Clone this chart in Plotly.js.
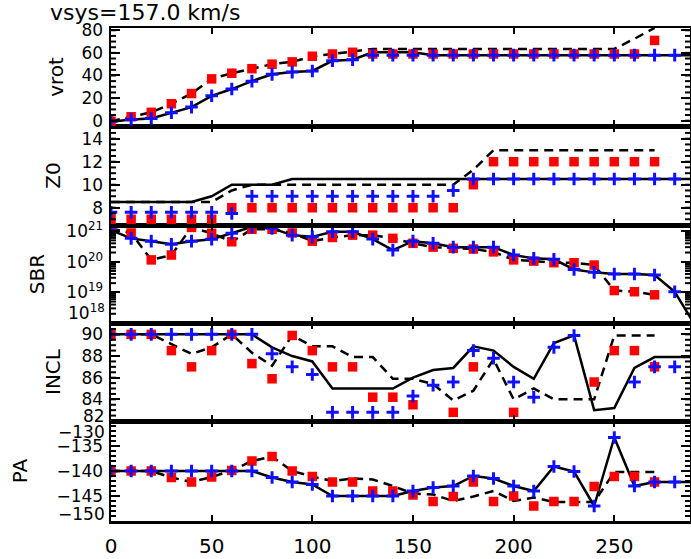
<!DOCTYPE html>
<html>
<head>
<meta charset="utf-8">
<script src="https://cdn.plot.ly/plotly-3.0.1.min.js"></script>
<style>html,body{margin:0;padding:0;background:#fff}#chart{width:691px;height:559px}</style>
</head>
<body>
<div id="chart"></div>
<script>
// radii of rings (points) and of model curves
const radius = [0,10,20,30,40,50,60,70,80,90,100,110,120,130,140,150,160,170,180,190,200,210,220,230,240,250,260,270,280];
const radiusRed = [0,10,20,30,40,50,60,70,80,90,100,110,120,130,140,150,160,170,180,190,200,210,220,230,240,250,260,270];
const radiusModel = [0,10,20,30,40,50,60,70,80,90,100,110,120,130,140,150,160,170,180,190,200,210,220,230,240,250,260,270,280,290];

// vrot
const vrotBlue = [-0.5,1,2,7,12,22,28,35,41,43,44,53,54,58,58,58,58,58,58,58,58,58,58,58,58,58,58,58,58];
const vrotRed = [-0.5,3.5,7.4,15,24,37,42,46,50,52,57,59,60.5,59,59,59,59,59,59,59,59,59,59,59,59,59,59,71];
const vrotSolid = [-1,1,2,7,12,22,28,35,41,43,44,53,54,60.5,60.5,60.5,58,58,58,58,58,58,58,58,58,58,58,58,58,58];
const vrotDashed = [-0.5,3.5,7.4,15,24,37,42,46,50,52,57,59,61,63.5,63.5,63.5,63.5,63.5,63.5,63.5,63.5,63.5,63.5,63.5,63.5,63.5,72.5,82];

// Z0
const z0Blue = [7.6,7.6,7.6,7.6,7.6,7.6,7.5,9,9,9,9,9,9,9,9,9,9,9.5,10.5,10.5,10.5,10.5,10.5,10.5,10.5,10.5,10.5,10.5,10.5];
const z0Red = [7,7,7,7,7,7,8,8,8,8,8,8,8,8,8,8,8,8,10,12,12,12,12,12,12,12,12,12];
const z0Solid = [8.5,8.5,8.5,8.5,8.5,9,10,10,10,10.5,10.5,10.5,10.5,10.5,10.5,10.5,10.5,10.5,10.5,10.5,10.5,10.5,10.5,10.5,10.5,10.5,10.5,10.5,10.5,10.5];
const z0Dashed = [8.5,8.5,8.5,8.5,8.5,8.5,9.5,10,10,10,10,10,10,10,10,10,10,10,11.3,13,13,13,13,13,13,13,13,13];

// SBR
const sbrBlue = [1.07e21,5.8e20,4.7e20,3.7e20,4.7e20,5.4e20,8.5e20,1.38e21,1.23e21,7.4e20,6.5e20,9.5e20,9.5e20,5.5e20,2.4e20,4.7e20,4.0e20,3.0e20,3.0e20,3.0e20,1.66e20,1.29e20,1.2e20,5.6e19,4.5e19,4.0e19,4.0e19,3.7e19,1.05e19];
const sbrRed = [1.23e21,8.7e20,1.15e20,1.66e20,1.32e21,8.5e20,4.5e20,1.15e21,1.15e21,8.7e20,4.7e20,6.2e20,7.4e20,7.4e20,5.8e20,4.0e20,3.0e20,2.75e20,2.6e20,2.1e20,1.15e20,1.05e20,9.3e19,9.3e19,7.8e19,1.15e19,1.05e19,8.3e18];
const sbrSolid = [1.07e21,5.8e20,4.7e20,3.7e20,4.7e20,5.4e20,8.5e20,1.38e21,1.23e21,7.4e20,6.5e20,9.5e20,9.5e20,5.5e20,2.4e20,4.7e20,4.0e20,3.0e20,3.0e20,3.0e20,1.66e20,1.29e20,1.2e20,5.6e19,4.5e19,4.0e19,4.0e19,3.7e19,1.05e19,8.7e17];
const sbrDashed = [1.23e21,8.7e20,1.15e20,1.66e20,1.32e21,8.5e20,4.5e20,1.15e21,1.15e21,8.7e20,4.7e20,6.2e20,7.4e20,7.4e20,5.8e20,4.0e20,3.0e20,2.75e20,2.6e20,2.1e20,1.15e20,1.05e20,9.3e19,9.3e19,7.8e19,1.15e19,1.05e19,8.3e18];

// INCL
const inclBlue = [90,90,90,90,90,90,90,90,88.2,87.0,86.3,82.8,82.8,82.8,82.8,84.3,85.3,85.6,88.5,87.8,85.6,84.2,88.8,89.9,null,null,85.6,87.0,87.0];
const inclRed = [90,90,90,88.5,87.0,88.5,90,87.3,85.9,89.9,88.5,87.0,87.0,84.2,84.2,83.5,null,82.8,87.0,null,82.8,null,null,null,85.6,88.5,88.5,87.0];
const inclSolid = [90,90,90,90,90,90,90,90,88.8,88.0,87.5,85,85,85,85,86.0,86.7,86.9,88.9,88.5,87.0,85.9,89.2,89.9,83.0,83.2,86.9,87.9,87.9,87.9];
const inclDashed = [90,90,90,89.1,88.2,88.8,90,88.3,87.1,89.9,88.9,88.9,87.9,87.9,85.9,85.9,85.4,83.9,84.8,87.7,84.0,85.0,84.0,84.0,84.0,89.9,89.9,89.9];

// PA
const paBlue = [-140,-140,-140,-140,-140,-140,-140,-140,-141.3,-142.2,-142.7,-145,-145,-145,-145,-144,-143.3,-143,-141,-141.5,-143,-144,-139.1,-140.1,-147,-133.3,-143,-142.2,-142.2];
const paRed = [-140,-140,-140,-141.3,-142.2,-141.2,-139.9,-138,-137.1,-140,-141.1,-142.2,-142.2,-144,-144,-144.8,-146.1,-145.1,-142.2,-146.1,-145,-147,-146.1,-146.1,-143.1,-141.1,-141.1,-142.2];
const paSolid = [-140,-140,-140,-140,-140,-140,-140,-140,-141.3,-142.2,-142.7,-145,-145,-145,-145,-144,-143.3,-143,-141,-141.5,-143,-144,-139.1,-140.1,-147,-133.3,-143,-142.2,-142.2,-142.2];
const paDashed = [-140,-140,-140,-141.3,-142.2,-141.2,-139.9,-138,-137.1,-140,-141.1,-142,-141.5,-141.7,-143,-144.5,-144.7,-146,-145.1,-144,-146,-145.3,-146.2,-146.2,-146.2,-140.2,-140.2,-140.2];

// tick labels
const paTicks = [-150, -145, -140, -135, -130];
const paTickText = ['', '\u2212145', '\u2212140', '\u2212135', ''];
const inclTicks = [82, 84, 86, 88, 90];
const inclTickText = ['', '84', '86', '88', '90'];
const sbrTicks = [1e18, 1e19, 1e20, 1e21];
const sbrTickText = ['', '10<sup>19</sup>', '10<sup>20</sup>', '10<sup>21</sup>'];

const panels = [
  {name:'PA', blue:paBlue, red:paRed, solid:paSolid, dashed:paDashed, standoff: 24},
  {name:'INCL', blue:inclBlue, red:inclRed, solid:inclSolid, dashed:inclDashed, standoff: 16},
  {name:'SBR', blue:sbrBlue, red:sbrRed, solid:sbrSolid, dashed:sbrDashed, standoff: 17},
  {name:'Z0', blue:z0Blue, red:z0Red, solid:z0Solid, dashed:z0Dashed, standoff: 16},
  {name:'vrot', blue:vrotBlue, red:vrotRed, solid:vrotSolid, dashed:vrotDashed, standoff: 13}
];

const traces = [];
panels.forEach((p, i) => {
  const xa = i === 0 ? 'x' : 'x' + (i + 1);
  const ya = i === 0 ? 'y' : 'y' + (i + 1);
  traces.push({x: radiusModel, y: p.solid, xaxis: xa, yaxis: ya, mode: 'lines',
    line: {color: 'black', width: 2.5}, hoverinfo: 'skip', showlegend: false});
  traces.push({x: radiusRed, y: p.dashed, xaxis: xa, yaxis: ya, mode: 'lines',
    line: {color: 'black', width: 2.5, dash: '9px,6px'}, hoverinfo: 'skip', showlegend: false});
  traces.push({x: radiusRed, y: p.red, xaxis: xa, yaxis: ya, mode: 'markers',
    marker: {symbol: 'square', size: 9.5, color: '#ff0000', line: {width: 0}}, showlegend: false});
  traces.push({x: radius, y: p.blue, xaxis: xa, yaxis: ya, mode: 'markers',
    marker: {symbol: 'cross-thin', size: 9, color: '#1010ff', line: {width: 3, color: '#1010ff'}}, showlegend: false});
});

const FONT = 'DejaVu Sans, Arial, sans-serif';
const H = 493;
const bounds = [521, 421, 323, 225, 126, 28];
const dom = i => [(521 - bounds[i]) / H, (521 - bounds[i + 1]) / H];
const tickFont = {family: FONT, size: 17, color: 'black'};

function xAxis(i) {
  return {
    domain: [0, 1], range: [0, 287.6], anchor: i === 0 ? 'y' : 'y' + (i + 1),
    showline: true, linewidth: 2.5, linecolor: 'black', mirror: 'allticks',
    ticks: 'inside', ticklen: 6, tickwidth: 2, tickcolor: 'black',
    tick0: 0, dtick: 50, showgrid: false, zeroline: false,
    showticklabels: i === 0, ticklabelstandoff: 5,
    tickfont: {family: FONT, size: 20, color: 'black'},
    matches: i === 0 ? undefined : 'x'
  };
}
function yAxis(i, extra) {
  return Object.assign({
    domain: dom(i), anchor: i === 0 ? 'x' : 'x' + (i + 1),
    showline: true, linewidth: 2.5, linecolor: 'black', mirror: 'allticks',
    ticks: 'inside', ticklen: 9, tickwidth: 2, tickcolor: 'black',
    showgrid: false, zeroline: false, ticklabelstandoff: 2,
    tickfont: tickFont,
    title: {text: panels[i].name, font: {family: FONT, size: 20, color: 'black'}, standoff: panels[i].standoff}
  }, extra);
}

// short minor ticks on both sides of every panel (axis decoration)
const shapes = [];
const TL = 5 / 579;
function addMinor(yref, vals) {
  vals.forEach(v => {
    shapes.push({type: 'line', xref: 'paper', yref: yref, x0: 0, x1: TL, y0: v, y1: v,
      line: {color: 'black', width: 2}, layer: 'above'});
    shapes.push({type: 'line', xref: 'paper', yref: yref, x0: 1 - TL, x1: 1, y0: v, y1: v,
      line: {color: 'black', width: 2}, layer: 'above'});
  });
}
const steps = (a, b, s) => { const o = []; for (let v = a; v <= b + 1e-9; v += s) o.push(+v.toFixed(3)); return o; };
addMinor('y', steps(-149, -131, 1));
addMinor('y2', steps(82.5, 91, 0.5));
const logMinor = [];
[1e18, 1e19, 1e20].forEach(d => { for (let k = 2; k <= 9; k++) logMinor.push(k * d); });
addMinor('y3', logMinor);
addMinor('y4', steps(6.5, 15, 0.5));
addMinor('y5', steps(0, 80, 5));

// end-of-axis labels nudged inward, as in the original figure
const edgeLabel = (text, ypx) => ({text: text, xref: 'paper', x: -4 / 579, xanchor: 'right',
  yref: 'paper', y: (521 - ypx) / H, yanchor: 'middle', showarrow: false, font: tickFont});

const layout = {
  width: 691, height: 559,
  margin: {l: 111, r: 1, t: 28, b: 38},
  paper_bgcolor: 'white', plot_bgcolor: 'white',
  showlegend: false,
  title: {text: 'vsys=157.0 km/s', x: 50 / 691, xanchor: 'left', xref: 'container',
          y: 1 - 12 / 559, yanchor: 'middle', yref: 'container',
          font: {family: FONT, size: 22, color: 'black'}},
  xaxis: xAxis(0), xaxis2: xAxis(1), xaxis3: xAxis(2), xaxis4: xAxis(3), xaxis5: xAxis(4),
  yaxis: yAxis(0, {range: [-150, -130], tickmode: 'array', tickvals: paTicks, ticktext: paTickText}),
  yaxis2: yAxis(1, {range: [82, 91.05], tickmode: 'array', tickvals: inclTicks, ticktext: inclTickText}),
  yaxis3: yAxis(2, {type: 'log', range: [18, 21.2], tickmode: 'array', tickvals: sbrTicks, ticktext: sbrTickText}),
  yaxis4: yAxis(3, {range: [6.5, 15.1], tick0: 0, dtick: 2}),
  yaxis5: yAxis(4, {range: [-4.7, 82], tick0: 0, dtick: 20}),
  shapes: shapes,
  annotations: [
    edgeLabel('\u2212130', 432),
    edgeLabel('\u2212150', 514),
    edgeLabel('82', 416),
    edgeLabel('10<sup>18</sup>', 312)
  ]
};

Plotly.newPlot('chart', traces, layout, {displayModeBar: false, staticPlot: true});
</script>
</body>
</html>
